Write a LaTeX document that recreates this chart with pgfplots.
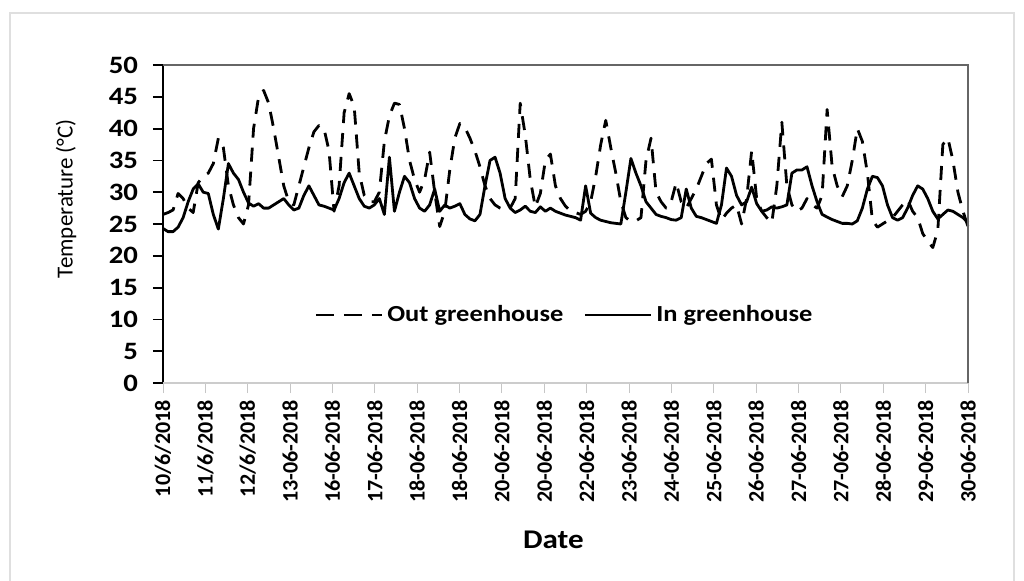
\documentclass[border=0pt]{standalone}
\usepackage{fontspec}
\setmainfont{Carlito}
\newfontfamily\stretchfont{Carlito}[FakeStretch=1.15]
\usepackage{pgfplots}
\pgfplotsset{compat=1.18}
\usepackage{pgfplotstable}

\pgfplotstableread{
i out in
0 26.5 24.3
1 26.8 23.8
2 27.2 23.8
3 29.8 24.5
4 29.0 26.0
5 27.5 28.5
6 26.8 30.5
7 31.5 31.3
8 32.5 30.0
9 33.0 29.8
10 34.5 26.5
11 38.5 24.2
12 37.0 29.0
13 31.0 34.5
14 28.0 33.0
15 26.0 32.0
16 25.0 30.0
17 28.0 28.3
18 40.0 27.8
19 45.0 28.2
20 46.0 27.5
21 44.0 27.5
22 40.0 28.0
23 35.5 28.5
24 31.0 29.0
25 28.5 28.0
26 28.0 27.2
27 31.0 27.5
28 34.0 29.5
29 37.0 31.0
30 39.5 29.5
31 40.5 28.0
32 40.0 27.8
33 36.5 27.5
34 27.0 27.2
35 31.0 29.0
36 42.5 31.5
37 45.5 33.0
38 43.5 31.0
39 33.0 29.0
40 29.5 27.8
41 28.5 27.5
42 28.5 28.0
43 30.0 29.0
44 38.0 26.5
45 42.0 35.5
46 44.0 27.0
47 43.8 30.0
48 40.0 32.5
49 35.0 31.5
50 32.0 29.0
51 30.0 27.5
52 32.0 27.0
53 36.3 28.0
54 30.0 30.5
55 24.6 27.0
56 27.0 28.0
57 33.5 27.5
58 38.5 27.8
59 40.8 28.2
60 40.2 26.5
61 38.5 25.8
62 36.5 25.5
63 34.0 26.5
64 31.0 31.0
65 29.0 35.0
66 28.0 35.5
67 27.5 33.0
68 27.2 29.0
69 27.5 27.5
70 29.0 26.8
71 44.0 27.2
72 39.0 27.8
73 32.0 27.0
74 27.7 26.8
75 29.8 27.7
76 35.0 27.0
77 36.0 27.5
78 31.0 27.0
79 29.0 26.7
80 27.8 26.4
81 27.0 26.2
82 26.8 26.0
83 26.5 25.6
84 27.0 31.0
85 28.5 26.7
86 32.5 26.0
87 37.5 25.6
88 41.3 25.4
89 37.0 25.2
90 33.0 25.1
91 28.5 25.0
92 26.0 30.0
93 25.4 35.3
94 25.5 33.0
95 26.0 31.0
96 35.0 28.5
97 38.5 27.5
98 30.0 26.5
99 28.5 26.2
100 27.5 26.0
101 28.5 25.7
102 31.5 25.6
103 28.5 26.0
104 27.5 30.5
105 29.0 27.5
106 30.5 26.2
107 32.5 26.0
108 34.5 25.7
109 35.2 25.4
110 28.0 25.1
111 25.6 28.0
112 26.7 33.8
113 27.5 32.5
114 28.0 29.5
115 25.0 28.0
116 29.0 28.5
117 36.5 30.8
118 29.0 28.2
119 27.0 27.0
120 26.0 27.2
121 25.2 27.7
122 31.0 27.5
123 41.0 27.7
124 31.0 28.0
125 28.0 33.0
126 27.0 33.5
127 27.5 33.5
128 29.0 34.0
129 28.0 31.0
130 27.5 28.5
131 29.5 26.5
132 43.0 26.1
133 34.0 25.7
134 31.0 25.4
135 29.3 25.1
136 31.0 25.1
137 35.0 25.0
138 40.0 25.5
139 38.0 27.5
140 33.0 30.5
141 25.6 32.5
142 24.5 32.3
143 25.0 31.0
144 25.5 28.0
145 26.0 26.0
146 27.0 25.6
147 28.0 26.0
148 28.8 27.5
149 27.0 29.5
150 26.0 31.0
151 23.5 30.5
152 22.3 29.0
153 21.3 27.0
154 24.0 25.8
155 37.5 26.5
156 38.5 27.2
157 35.0 27.0
158 30.0 26.5
159 27.0 26.0
160 24.6 25.2
}\datatable

\begin{document}
\begin{tikzpicture}
\useasboundingbox (0,0) rectangle (512pt,290pt);
\draw[gray!25, line width=0.8pt] (5pt,-5pt) rectangle (507pt,283.5pt);
\begin{axis}[
  at={(81.5pt,98.5pt)}, anchor=south west,
  width=402.5pt, height=159pt, scale only axis,
  xmin=0, xmax=160, ymin=0, ymax=50,
  ytick={0,5,...,50},
  xtick={0,8.421,16.842,25.263,33.684,42.105,50.526,58.947,67.368,75.789,84.211,92.632,101.053,109.474,117.895,126.316,134.737,143.158,151.579,160},
  xticklabels={10/6/2018,11/6/2018,12/6/2018,13-06-2018,16-06-2018,17-06-2018,18-06-2018,18-06-2018,20-06-2018,20-06-2018,22-06-2018,23-06-2018,24-06-2018,25-06-2018,26-06-2018,27-06-2018,27-06-2018,28-06-2018,29-06-2018,30-06-2018},
  minor x tick num=7,
  xtick pos=bottom, ytick pos=left,
  tick align=outside,
  major tick length=5pt, minor tick length=5pt,
  x tick style={draw=gray!45, line width=0.5pt},
  minor x tick style={draw=gray!45, line width=0.5pt},
  y tick style={draw=black, line width=0.9pt},
  axis line style={draw=none},
  /pgf/number format/assume math mode=true,
  xticklabel style={rotate=90, anchor=east, font=\bfseries\fontsize{11}{12}\selectfont},
  yticklabel style={xshift=-4pt, font=\stretchfont\bfseries\fontsize{12.5}{14}\selectfont},
  xlabel={Date},
  xlabel style={at={(axis description cs:0.485,-0.494)}, anchor=center, font=\stretchfont\bfseries\fontsize{13.5}{15}\selectfont},
  ylabel={Temperature (°C)},
  ylabel style={at={(axis description cs:-0.1205,0.58)}, anchor=center, font=\fontsize{11.5}{13}\selectfont},
  legend style={at={(rel axis cs:0.5,0.214)}, anchor=center, draw=none, fill=none,
    font=\stretchfont\bfseries\fontsize{11.5}{13}\selectfont,
    /tikz/every even column/.append style={column sep=8pt}},
  legend columns=2,
  legend cell align=left,
  legend image code/.code={\draw[#1] (0pt,0pt) -- (33pt,0pt);},
  clip=false,
]
\addplot[black, line width=1.4pt, dash pattern=on 7pt off 5pt, line join=round,
  legend image post style={dash pattern=on 9pt off 5pt}] table[x=i, y=out] {\datatable};
\addlegendentry{Out greenhouse}
\addplot[black, line width=1.4pt, line join=round] table[x=i, y=in] {\datatable};
\addlegendentry{In greenhouse}
\draw[black, line width=1pt] (rel axis cs:0,0) -- (rel axis cs:0,1);
\draw[gray!40, line width=0.6pt] (rel axis cs:0,0) -- (rel axis cs:1,0);
\draw[black!60, line width=1.3pt] (rel axis cs:0,1) -- (rel axis cs:1,1) -- (rel axis cs:1,0);
\end{axis}
\end{tikzpicture}
\end{document}
